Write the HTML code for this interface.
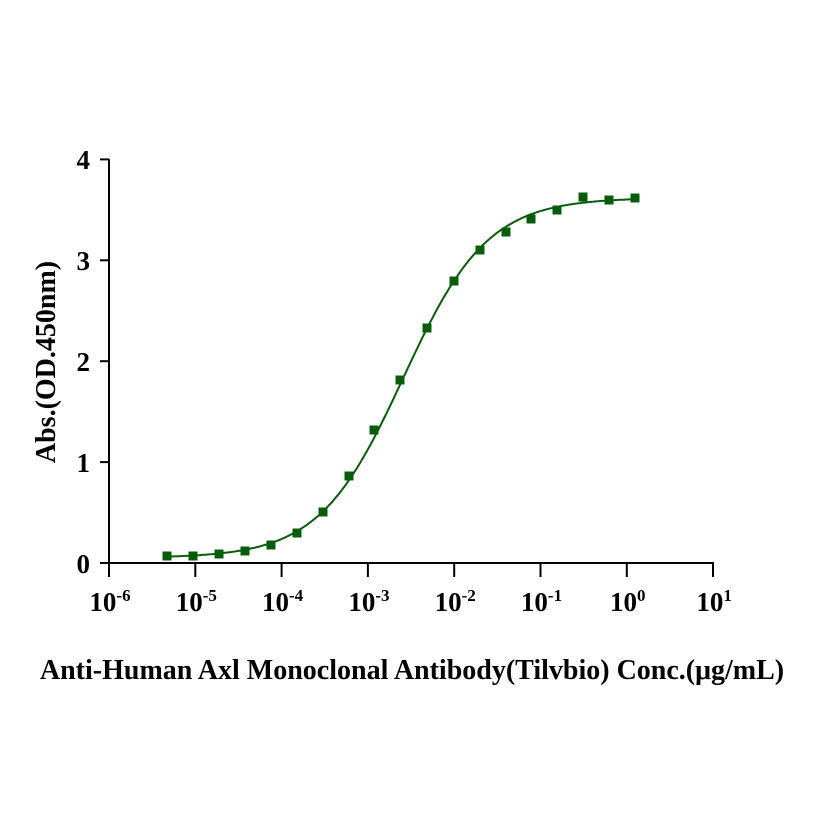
<!DOCTYPE html>
<html><head><meta charset="utf-8"><style>
body{margin:0;background:#fff}
svg text{font-family:"Liberation Serif",serif;font-weight:bold;fill:#000}
</style></head><body>
<svg id="s" width="817" height="817" viewBox="0 0 817 817" xmlns="http://www.w3.org/2000/svg">
<g stroke="#000" stroke-width="2" fill="none">
<line x1="109" y1="159" x2="109" y2="564"/>
<line x1="108" y1="563" x2="714" y2="563"/>
<line x1="100" y1="159.4" x2="109" y2="159.4"/>
<line x1="100" y1="260.3" x2="109" y2="260.3"/>
<line x1="100" y1="361.2" x2="109" y2="361.2"/>
<line x1="100" y1="462.1" x2="109" y2="462.1"/>
<line x1="100" y1="563" x2="109" y2="563"/>
<line x1="109" y1="563" x2="109" y2="577"/>
<line x1="195.3" y1="563" x2="195.3" y2="577"/>
<line x1="281.6" y1="563" x2="281.6" y2="577"/>
<line x1="367.9" y1="563" x2="367.9" y2="577"/>
<line x1="454.2" y1="563" x2="454.2" y2="577"/>
<line x1="540.5" y1="563" x2="540.5" y2="577"/>
<line x1="626.8" y1="563" x2="626.8" y2="577"/>
<line x1="713" y1="563" x2="713" y2="577"/>
</g>
<g font-size="27" text-anchor="end">
<text x="90" y="169">4</text><text x="90" y="270">3</text><text x="90" y="371">2</text><text x="90" y="472">1</text><text x="90" y="573">0</text>
</g>
<g font-size="27" text-anchor="middle" id="xl"></g>
<text font-size="28" text-anchor="middle" transform="translate(55,362) rotate(-90)">Abs.(OD.450nm)</text>
<text font-size="28" x="412" y="679" text-anchor="middle">Anti-Human Axl Monoclonal Antibody(Tilvbio) Conc.(μg/mL)</text>
<path id="c" fill="none" stroke="#0a5c0a" stroke-width="2"/>
<g id="p" fill="#0a5c0a"></g>
</svg>
<script>
var ns="http://www.w3.org/2000/svg";
var xl=document.getElementById('xl');
for(var i=-6;i<=1;i++){var x=109+(i+6)*86.3;var t=document.createElementNS(ns,'text');t.setAttribute('x',x+1);t.setAttribute('y',611);
t.innerHTML='10<tspan dy="-10" font-size="17">'+(i<0?'-'+(-i):i)+'</tspan>';xl.appendChild(t);}
function X(l){return 109+(l+6)*86.3}
function Y(v){return 563-v*100.9}
function f(l){return 0.05+3.57/(1+Math.pow(10,(-2.59-l)*0.89))}
var d='';for(var l=-5.3;l<=0.1;l+=0.02){d+=(d?'L':'M')+X(l).toFixed(1)+','+Y(f(l)).toFixed(1);}
document.getElementById('c').setAttribute('d',d);
var pts=[[167,556],[193,556],[219,554],[245,551],[271,545],[297,533],[323,512],[349,476],[374,430],[400,380],[427,328],[454,281],[480,250],[506,232],[531,219],[557,210],[583,197],[609,200],[635,198]];
var g=document.getElementById('p');
pts.forEach(function(p){var r=document.createElementNS(ns,'rect');r.setAttribute('x',p[0]-4.5);r.setAttribute('y',p[1]-4.5);r.setAttribute('width',9);r.setAttribute('height',9);g.appendChild(r);});
</script>
</body></html>
